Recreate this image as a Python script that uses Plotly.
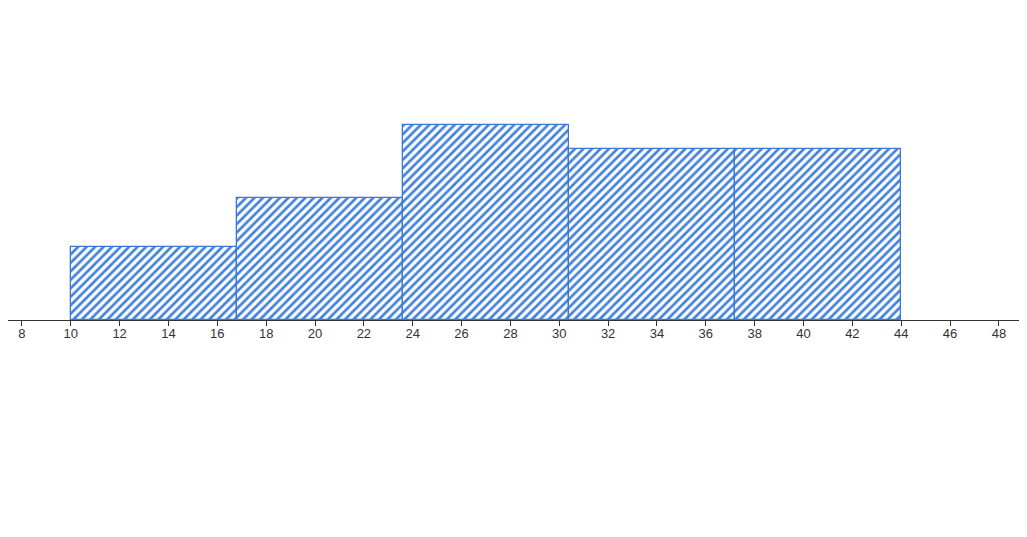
import plotly.graph_objects as go

bin_edges = [10, 16.8, 23.6, 30.4, 37.2, 44]
counts = [3, 5, 8, 7, 7]
tick_vals = list(range(8, 50, 2))

centers = [(a + b) / 2 for a, b in zip(bin_edges[:-1], bin_edges[1:])]
widths = [b - a for a, b in zip(bin_edges[:-1], bin_edges[1:])]

fig = go.Figure()
fig.add_trace(go.Bar(
    x=centers, y=counts, width=widths,
    marker=dict(
        color='white',
        line=dict(color='#3b78d7', width=1.3),
        pattern=dict(shape='/', fgcolor='#4482d8', bgcolor='white', fgopacity=1,
                     size=6, solidity=0.45),
    ),
    showlegend=False,
))

# page body has a default 8px margin, so the figure is a bit smaller than the window
fig.update_layout(
    width=1019, height=529,
    plot_bgcolor='white', paper_bgcolor='white',
    margin=dict(l=0, r=0, t=12, b=217),
    bargap=0,
    font=dict(family='Liberation Sans, Arial', size=13, color='#333'),
    xaxis=dict(
        range=[7.43, 49.15], tickvals=tick_vals, showgrid=False, zeroline=False,
        showline=True, linecolor='#333', linewidth=1, automargin=False,
        ticks='outside', ticklen=5, tickcolor='#333', ticklabelstandoff=-4,
    ),
    yaxis=dict(range=[0, 300 / 24.375], visible=False, showgrid=False, automargin=False),
)

fig.write_html("out.html")
